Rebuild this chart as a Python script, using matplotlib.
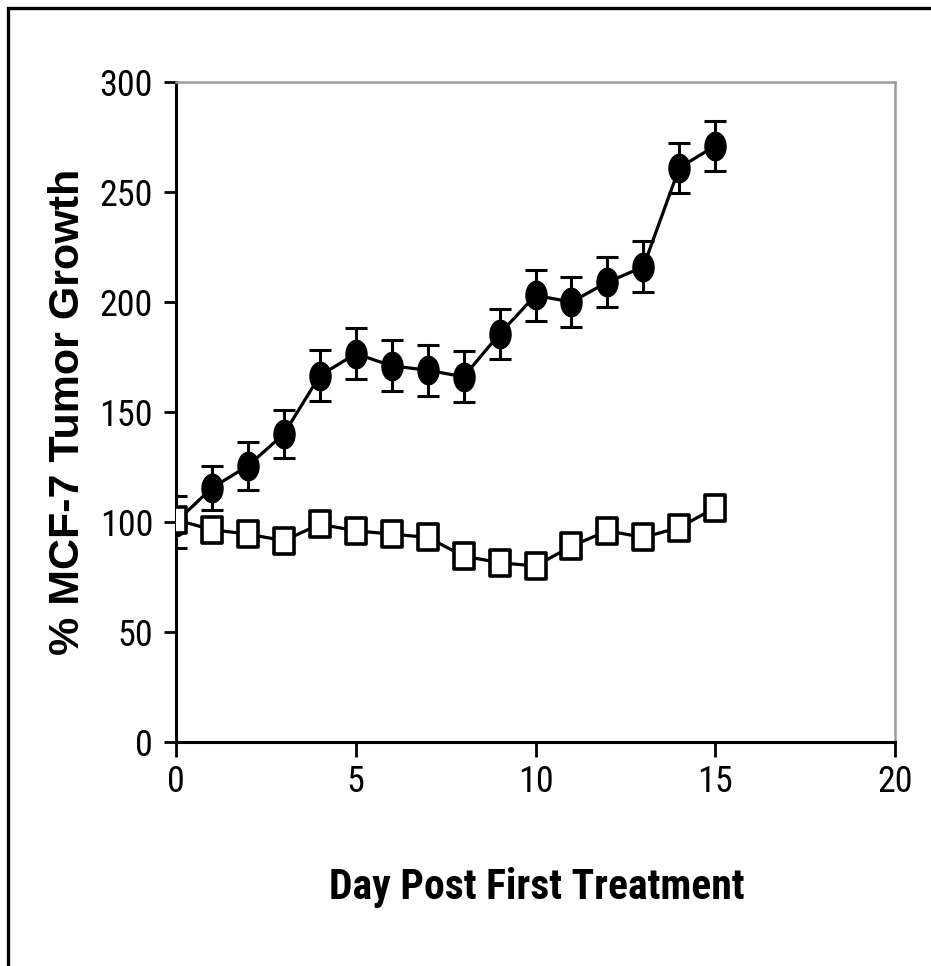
import matplotlib
matplotlib.use("Agg")
import matplotlib.pyplot as plt
from matplotlib.path import Path
from matplotlib.patches import Rectangle
from matplotlib.transforms import Affine2D
import numpy as np

days = list(range(16))
treated_mean = [100, 115.5, 125.5, 140, 166.5, 176.5, 171, 169, 166, 185.5, 203, 200, 209, 216, 261, 271]
treated_err = [12, 10, 11, 11, 11.5, 11.5, 11.5, 11.5, 11.5, 11.5, 11.5, 11.5, 11.5, 11.5, 11.5, 11.5]
control_mean = [101, 96.5, 94.5, 91.5, 99, 96, 94.5, 93, 84.5, 81.5, 80, 89, 96, 93, 97.5, 106.5]
control_err = [3, 3, 3, 3, 3, 3, 3, 3, 3, 3, 3, 3, 3, 3, 3, 3]

xticks = [0, 5, 10, 15, 20]
yticks = [0, 50, 100, 150, 200, 250, 300]
xlabel = "Day Post First Treatment"
ylabel = "% MCF-7 Tumor Growth"

narrow = ["Liberation Sans Narrow", "Roboto Condensed", "Liberation Sans", "DejaVu Sans"]
regular = ["Liberation Sans", "DejaVu Sans"]

W, H = 931, 966
fig = plt.figure(figsize=(W / 100, H / 100), dpi=100)
ax = fig.add_axes([176 / W, 1 - 742 / H, (895 - 176) / W, (742 - 82) / H])

# custom tall markers (picture is horizontally compressed)
ellipse = Path.unit_circle().transformed(Affine2D().scale(0.74, 1.0))
sq = Path([(-0.385, -0.5), (0.385, -0.5), (0.385, 0.5), (-0.385, 0.5), (-0.385, -0.5)],
          [Path.MOVETO, Path.LINETO, Path.LINETO, Path.LINETO, Path.CLOSEPOLY])

ax.errorbar(days, treated_mean, yerr=treated_err, color="black", lw=2.3,
            elinewidth=2.2, capsize=8, capthick=2.2, marker=ellipse,
            markersize=20.5, markerfacecolor="black", markeredgecolor="black",
            zorder=3)
ax.errorbar(days, control_mean, yerr=control_err, color="black", lw=2.3,
            elinewidth=2.0, capsize=8, capthick=2.0, marker=sq,
            markersize=19, markerfacecolor="white", markeredgecolor="black",
            markeredgewidth=2.6, zorder=4)

ax.set_xlim(0, 20)
ax.set_ylim(0, 300)
ax.set_xticks(xticks)
ax.set_yticks(yticks)
ax.set_xticklabels([str(t) for t in xticks], family=narrow, fontsize=26)
ax.set_yticklabels([str(t) for t in yticks], family=narrow, fontsize=26)
ax.tick_params(axis="x", direction="out", length=11, width=2, pad=5)
ax.tick_params(axis="y", direction="out", length=8.5, width=2, pad=8)

for s in ["left", "bottom"]:
    ax.spines[s].set_linewidth(2.2)
    ax.spines[s].set_color("black")
for s in ["top", "right"]:
    ax.spines[s].set_linewidth(1.8)
    ax.spines[s].set_color("#9a9a9a")

fig.text(68 / W, 1 - 412 / H, ylabel, rotation=90, ha="center", va="center",
         family=regular, fontweight="bold", fontsize=31)
fig.text(537 / W, 1 - 887 / H, xlabel, ha="center", va="center",
         family=narrow, fontweight="bold", fontsize=30)

# outer frame (right and bottom edges lie outside the picture)
fig.patches.append(Rectangle((8 / W, -0.1), 1.2, 1.1 - 8 / H, transform=fig.transFigure,
                             fill=False, edgecolor="black", linewidth=2.4))

fig.savefig("out.png", dpi=100)
